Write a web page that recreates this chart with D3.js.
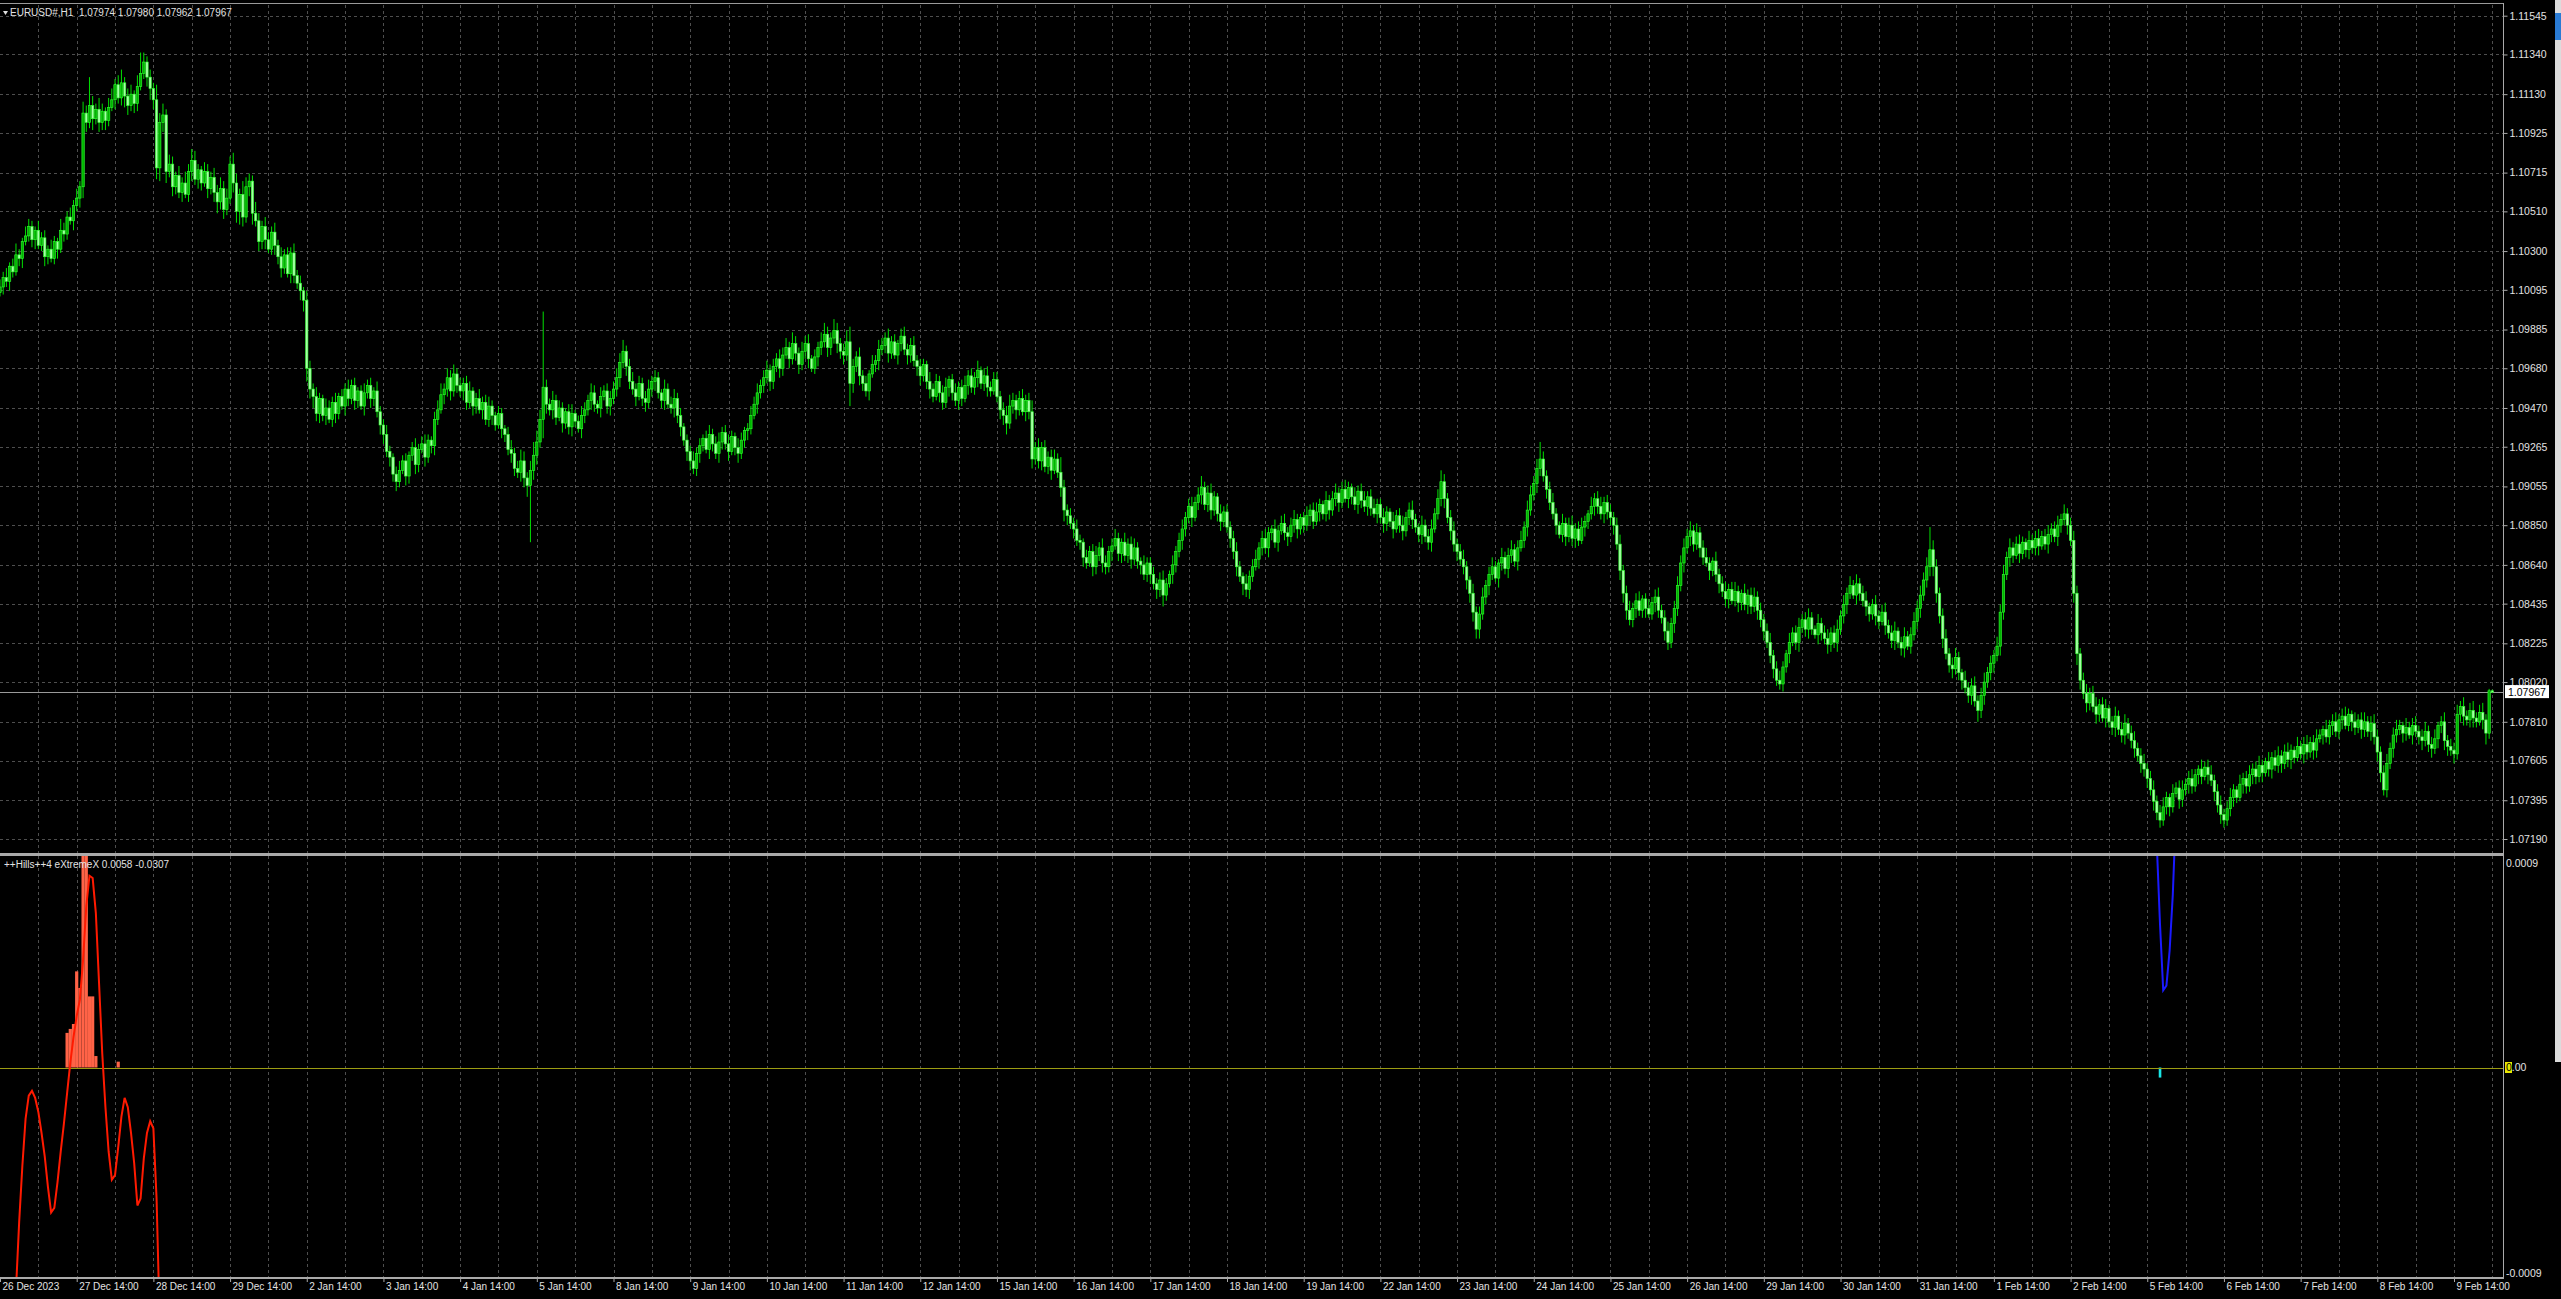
<!DOCTYPE html>
<html><head><meta charset="utf-8">
<script src="https://cdn.jsdelivr.net/npm/d3@7/dist/d3.min.js"></script>
<style>html,body{margin:0;padding:0;background:#000;overflow:hidden}svg{display:block}</style>
</head><body>
<script>
// ---- DATA (prices in pips above 1.07000; one bar per hour) ----
const basePrice = 1.07;
const firstOpen = 308;
const closes = [
311,316,314,322,319,328,326,335,338,343,336,341,333,337,327,331,326,335,331,341,339,348,346,354,
358,364,403,398,407,400,405,398,404,399,406,410,418,411,419,412,407,413,408,417,424,430,422,416,
410,374,398,402,372,376,364,370,361,366,360,372,378,368,373,366,372,363,369,361,356,363,352,358,
376,366,351,360,348,364,367,350,346,335,343,336,331,340,333,327,321,328,318,329,317,313,309,304,
268,257,253,244,252,243,247,241,250,244,253,248,257,252,259,251,256,248,255,259,252,256,245,238,
233,224,221,212,208,214,219,211,222,226,217,225,228,221,230,227,241,246,254,257,263,256,265,259,
256,260,250,256,248,252,246,250,241,248,243,238,244,236,233,225,223,215,213,219,210,206,214,222,
229,241,258,249,246,251,242,247,239,245,237,244,240,236,243,246,251,255,249,247,253,256,248,252,
257,263,271,277,269,261,257,253,260,252,250,257,261,263,255,251,257,249,247,252,243,237,230,224,
219,215,223,227,231,225,233,228,223,229,234,228,224,232,226,223,230,235,236,243,249,255,259,263,
267,261,269,273,268,275,279,273,281,276,270,277,281,273,268,274,279,282,286,279,284,288,281,277,
275,282,260,269,274,264,260,256,265,270,272,278,280,284,276,282,275,281,285,278,275,280,272,269,
264,270,261,257,253,261,255,250,258,262,255,251,258,252,259,264,258,263,267,260,264,258,256,262,
253,246,243,239,248,251,246,252,245,251,245,220,226,219,226,216,221,214,220,213,205,193,190,186,
183,177,176,168,165,171,163,169,173,165,163,171,174,178,170,176,169,175,167,173,166,164,159,165,
159,154,151,156,148,154,159,164,171,177,183,189,195,189,197,201,205,196,202,193,200,191,187,192,
184,178,171,163,158,154,151,158,163,167,173,178,173,181,183,176,182,186,181,179,185,188,183,189,
185,190,193,187,192,196,191,198,193,199,202,197,204,199,205,200,196,203,198,195,200,194,191,196,
189,186,192,187,183,190,185,182,189,193,188,184,180,185,179,176,183,191,199,208,199,189,182,175,
171,167,163,156,149,139,130,138,147,153,159,163,157,165,168,162,169,172,166,173,177,184,193,201,
207,215,220,211,204,197,191,185,180,186,179,185,178,183,177,184,187,191,195,199,195,191,197,192,
189,185,175,161,149,140,135,141,145,140,146,141,138,144,147,140,136,129,123,133,141,153,165,173,
179,182,175,181,173,168,165,161,166,159,154,150,146,151,145,150,144,149,143,148,142,147,140,135,
129,123,116,109,103,101,110,117,123,128,123,131,135,130,136,130,127,133,128,125,122,128,123,130,
137,143,149,153,148,154,149,145,142,138,143,137,134,139,132,128,124,129,123,120,126,121,127,134,
141,148,156,163,172,163,149,137,125,117,111,109,115,107,103,99,95,100,92,87,95,102,107,112,
116,121,139,159,168,173,169,175,170,176,172,177,173,178,174,179,175,180,183,179,185,188,191,185,
177,149,117,103,96,91,96,89,85,90,83,88,81,78,84,77,74,80,75,71,67,63,59,56,
51,45,39,33,29,36,41,36,43,46,40,45,48,51,47,53,56,52,57,53,50,44,37,32,
29,35,41,45,41,48,51,47,53,56,52,58,54,60,56,62,58,63,59,65,61,66,62,68,
64,69,65,70,66,72,74,77,73,79,81,76,82,84,79,85,81,78,82,77,81,76,80,73,
65,54,45,59,67,74,77,79,75,78,74,79,76,73,71,76,69,67,72,79,81,71,68,66,
64,85,89,84,82,87,83,81,86,82,75,97.4,96.7];
const upWick = [
4,3,5,2,4,6,3,2,5,4,3,2,5,3,4,2,5,3,2,6,4,3,5,3,
5,3,6,4,15,5,3,6,4,2,5,6,3,5,7,3,4,5,2,6,11,5,3,4,
3,8,5,6,3,5,4,2,5,3,6,4,6,5,3,2,5,4,3,5,4,6,4,5,
4,6,5,3,7,5,4,3,6,4,3,5,4,3,5,3,5,3,4,3,5,3,4,2,
5,4,3,5,3,2,5,4,3,5,2,4,3,5,3,4,2,3,5,3,4,2,5,3,
3,5,3,2,4,5,3,4,2,3,5,3,4,5,3,2,4,5,6,3,5,4,5,3,
4,3,4,5,2,3,5,3,4,5,3,2,4,3,2,4,5,3,4,6,5,3,5,7,
6,5,40,4,3,5,3,4,3,2,4,5,2,3,5,4,3,5,4,2,5,3,4,4,
4,5,5,6,3,4,5,3,4,3,4,5,3,4,3,2,5,3,4,5,3,4,2,3,
3,5,3,4,2,4,5,3,4,5,3,4,5,3,2,5,4,2,3,5,4,5,3,4,
5,3,4,3,5,4,5,3,6,4,3,5,4,5,2,4,3,5,6,4,3,6,4,3,
4,6,8,4,3,5,3,4,2,5,3,5,4,3,5,3,4,2,4,5,3,4,5,3,
4,3,2,5,3,4,3,4,5,2,3,5,3,4,5,3,4,3,5,2,4,5,3,4,
4,3,4,5,6,4,3,4,5,3,4,6,3,5,3,4,3,4,5,3,8,4,3,4,
3,5,3,2,4,3,4,5,3,5,4,3,4,5,3,2,5,3,4,5,3,2,5,3,
3,4,3,4,5,3,2,5,3,4,5,3,4,5,3,4,6,3,4,5,3,2,5,3,
4,3,4,5,3,2,5,3,4,5,3,4,5,3,2,5,3,4,5,3,4,5,3,2,
3,5,3,4,5,3,2,5,3,4,5,3,4,5,3,2,5,3,4,5,3,4,5,3,
3,5,3,2,5,3,4,5,3,4,5,3,2,5,3,4,5,3,5,6,4,3,4,5,
3,4,5,3,2,5,3,4,5,3,4,5,3,2,5,3,4,5,3,4,5,3,5,5,
4,5,9,4,3,4,5,3,2,5,3,4,5,3,4,5,3,2,5,3,4,5,3,4,
4,3,4,5,3,4,5,3,4,5,2,3,5,3,4,5,3,4,5,3,4,5,4,5,
4,5,3,5,3,4,5,3,2,5,3,4,5,3,4,5,3,2,5,3,4,5,3,4,
3,4,5,3,4,5,3,2,5,3,4,5,3,4,5,3,2,5,3,4,5,3,4,5,
3,5,3,5,3,5,3,4,5,2,3,5,3,4,5,3,4,5,2,3,5,3,4,5,
4,5,4,5,12,5,4,3,4,5,3,4,5,3,2,5,3,4,5,3,4,5,3,4,
3,5,4,5,3,5,3,4,5,3,2,5,3,4,5,3,4,5,3,4,5,3,5,3,
4,5,4,3,4,5,3,4,5,3,4,5,2,3,5,3,4,5,3,4,5,3,4,5,
3,4,5,3,4,5,3,2,5,3,4,5,3,4,5,3,2,5,3,4,5,3,4,5,
3,4,5,3,2,5,3,4,5,3,4,5,3,2,5,3,4,5,3,4,5,3,2,5,
3,4,5,3,4,5,3,2,5,3,4,5,3,4,5,3,2,5,3,4,5,3,4,5,
4,3,4,5,3,4,5,3,2,5,3,4,5,3,4,5,3,4,5,2,3,5,3,4,
4,5,3,5,3,4,5,3,4,5,3,1,0.6];
const dnWick = [
2,4,3,5,3,2,4,5,2,3,4,5,2,3,5,4,2,3,5,2,4,3,2,5,
3,5,6,5,3,6,3,5,4,5,3,2,5,3,4,6,5,3,5,4,2,3,5,6,
5,6,7,5,6,3,5,4,3,5,2,4,5,3,5,4,2,5,3,5,6,4,5,3,
3,5,6,7,5,3,5,6,3,5,4,5,2,3,5,4,5,3,2,5,4,3,5,6,
7,5,6,4,5,3,5,2,4,5,3,2,5,4,3,5,4,2,5,3,5,4,3,5,
5,3,5,4,5,3,2,5,4,3,5,4,2,5,3,4,5,3,2,5,4,5,3,4,
3,5,4,3,5,4,2,5,3,4,5,3,2,5,4,3,5,4,3,5,5,6,30,5,
5,3,10,5,3,5,4,2,5,3,4,5,3,2,5,4,3,5,4,3,5,2,4,5,
3,4,5,3,5,4,3,5,2,4,5,3,4,5,3,4,5,2,3,5,4,5,3,5,
5,3,4,5,3,2,5,4,3,5,4,3,5,2,4,5,3,4,5,3,2,5,3,4,
3,5,4,3,5,4,2,5,3,4,5,3,4,5,2,3,5,4,3,5,4,3,5,4,
5,3,12,5,3,5,4,3,5,2,4,5,3,4,5,3,2,5,4,3,5,4,3,5,
5,3,4,5,3,2,5,4,3,5,4,3,5,4,2,5,3,4,5,3,4,5,3,2,
3,5,5,6,3,4,5,3,2,5,4,5,3,4,5,3,4,5,2,3,5,6,5,3,
5,3,4,5,3,2,5,4,3,5,4,3,5,2,4,5,3,4,5,3,4,5,3,4,
5,3,5,4,6,3,2,5,4,3,5,4,3,5,2,4,5,3,4,5,3,4,5,3,
3,5,4,5,3,6,4,5,3,2,5,4,3,5,4,3,5,2,4,5,3,4,5,3,
4,3,5,4,2,5,3,4,5,3,4,5,3,2,5,4,3,5,4,3,5,4,2,5,
3,5,4,3,5,2,4,5,3,4,5,3,4,5,3,4,5,2,3,4,5,3,5,4,
5,3,4,5,5,5,5,5,3,4,5,3,2,5,4,3,5,4,3,5,2,4,5,3,
3,5,4,3,5,4,3,5,2,4,5,3,4,5,3,2,5,4,3,5,4,3,5,4,
4,5,3,5,5,5,3,4,5,3,4,5,2,3,5,4,3,5,4,3,5,4,3,5,
3,5,4,3,5,4,2,5,3,4,5,3,4,5,2,3,5,4,3,5,4,3,5,4,
5,3,4,5,3,3,4,3,5,2,4,5,3,4,5,3,2,5,4,3,5,4,3,5,
3,4,5,3,2,5,4,3,5,4,3,5,4,2,5,3,4,5,3,4,5,2,4,3,
4,5,3,4,5,5,5,4,5,3,4,5,3,4,5,3,4,5,3,6,4,5,3,4,
5,3,5,4,3,5,4,2,5,3,4,5,3,4,5,2,3,5,4,3,5,4,3,5,
3,5,6,5,3,5,4,3,5,4,2,5,3,4,5,3,4,5,3,4,5,3,5,4,
5,3,5,4,4,3,4,5,3,2,5,4,3,5,4,3,5,4,2,5,3,5,4,5,
4,3,4,5,3,2,5,4,3,5,4,3,5,2,4,5,3,4,5,3,4,5,3,2,
3,5,4,3,5,4,2,5,3,4,5,3,4,5,2,3,5,4,3,5,4,3,5,4,
5,5,3,4,3,5,4,3,5,4,2,5,3,4,5,3,4,5,3,5,4,5,5,3,
5,3,4,5,3,4,5,3,2,5,6,3,0.5];

const priceTicks = [1.11545,1.11340,1.11130,1.10925,1.10715,1.10510,1.10300,1.10095,1.09885,1.09680,1.09470,
  1.09265,1.09055,1.08850,1.08640,1.08435,1.08225,1.08020,1.07810,1.07605,1.07395,1.07190];
const dayLabels = ["26 Dec 2023","27 Dec 14:00","28 Dec 14:00","29 Dec 14:00","2 Jan 14:00","3 Jan 14:00","4 Jan 14:00",
  "5 Jan 14:00","8 Jan 14:00","9 Jan 14:00","10 Jan 14:00","11 Jan 14:00","12 Jan 14:00","15 Jan 14:00","16 Jan 14:00",
  "17 Jan 14:00","18 Jan 14:00","19 Jan 14:00","22 Jan 14:00","23 Jan 14:00","24 Jan 14:00","25 Jan 14:00","26 Jan 14:00",
  "29 Jan 14:00","30 Jan 14:00","31 Jan 14:00","1 Feb 14:00","2 Feb 14:00","5 Feb 14:00","6 Feb 14:00","7 Feb 14:00",
  "8 Feb 14:00","9 Feb 14:00"];
const barsPerDay = 24;
const headerText = "EURUSD#,H1  1.07974 1.07980 1.07962 1.07967";
const lastPrice = 1.07967;
const indicatorText = "++Hills++4 eXtremeX 0.0058 -0.0307";
const indTicks = [0.0009, -0.0009];
const indTickLabels = ["0.0009", "-0.0009"];
// histogram (salmon) bars
const histBars =   [21, 22, 23, 24, 25, 26, 27, 28, 29, 30, 37];
const histValues = [0.000148,0.000165,0.000186,0.000411,0.00034,0.00095,0.00095,0.000304,0.000304,0.000049,0.000025];
// red line, starting at bar 5
const redStart = 5;
const redValues = [-0.00095,-0.00066,-0.00042,-0.00022,-0.00012,-0.0001,-0.00013,-0.00019,-0.00028,-0.00038,-0.00051,-0.00062,
  -0.0006,-0.00049,-0.00036,-0.00024,-0.00011,0.00002,0.00013,0.00022,0.00029,0.00046,0.00069,0.00082,0.00081,0.00066,
  0.00036,0.00006,-0.00017,-0.00036,-0.00048,-0.00046,-0.00034,-0.00021,-0.00013,-0.00017,-0.00028,-0.00041,-0.00059,
  -0.00056,-0.00039,-0.00028,-0.00023,-0.00026,-0.00056,-0.0011];
// blue line, starting at bar 675
const blueStart = 675;
const blueValues = [0.00095,0.00061,0.00033,0.00035,0.0005,0.00074,0.0011];
// cyan bar
const cyanBars = [676];
const cyanValues = [-0.000043];

// ---- LAYOUT ----
const W = 2561, H = 1299;
const plotR = 2503, mainTop = 4, mainBot = 853, indTop = 856, indBot = 1277;
const P = v => basePrice + v / 10000;

const x = d3.scaleLinear().domain([0, 32 * barsPerDay]).range([0, 2454]);
const y = d3.scaleLinear().domain([1.07190, 1.11545]).range([839, 15.7]);
const yi = d3.scaleLinear().domain([-0.0009, 0.0009]).range([1278, 857]);

const bars = closes.map((c, i) => {
  const o = i === 0 ? firstOpen : closes[i - 1];
  return { i, o: P(o), c: P(c), h: P(Math.max(o, c) + upWick[i]), l: P(Math.min(o, c) - dnWick[i]) };
});

const svg = d3.select("body").append("svg").attr("width", W).attr("height", H)
  .style("background", "#000").style("font-family", "'Liberation Sans', Arial, sans-serif");
const defs = svg.append("defs");
defs.append("clipPath").attr("id", "cm").append("rect").attr("x", 0).attr("y", mainTop + 1).attr("width", plotR).attr("height", mainBot - mainTop - 1);
defs.append("clipPath").attr("id", "ci").append("rect").attr("x", 0).attr("y", indTop).attr("width", plotR).attr("height", indBot - indTop);

// grid
const gridC = "#4e4e4e";
const grid = svg.append("g").attr("stroke", gridC).attr("stroke-dasharray", "3,3").attr("stroke-width", 1);
priceTicks.forEach(p => {
  const yy = Math.round(y(p)) + 0.5;
  grid.append("line").attr("x1", 0).attr("x2", plotR).attr("y1", yy).attr("y2", yy);
});
for (let k = barsPerDay / 2; x(k) < plotR - 2; k += barsPerDay / 2) {
  const xx = Math.round(x(k)) + 0.5;
  grid.append("line").attr("x1", xx).attr("x2", xx).attr("y1", mainTop + 1).attr("y2", mainBot);
  grid.append("line").attr("x1", xx).attr("x2", xx).attr("y1", indTop).attr("y2", indBot);
}

// current price line
svg.append("line").attr("x1", 0).attr("x2", plotR).attr("y1", Math.round(y(lastPrice)) + 0.5).attr("y2", Math.round(y(lastPrice)) + 0.5)
  .attr("stroke", "#9a9a9a").attr("stroke-width", 1);

// candles
const cg = svg.append("g").attr("clip-path", "url(#cm)");
cg.selectAll("line.w").data(bars).join("line").attr("class", "w")
  .attr("x1", d => x(d.i)).attr("x2", d => x(d.i))
  .attr("y1", d => y(d.h)).attr("y2", d => y(d.l))
  .attr("stroke", "#00e000").attr("stroke-width", 1);
cg.selectAll("rect.b").data(bars).join("rect").attr("class", "b")
  .attr("x", d => x(d.i) - 1.2).attr("width", 2.4)
  .attr("y", d => y(Math.max(d.o, d.c)))
  .attr("height", d => Math.max(0.8, Math.abs(y(d.o) - y(d.c))))
  .attr("fill", d => d.c >= d.o ? "#00b400" : "#a6ffa6")
  .attr("stroke", "#30ff30").attr("stroke-width", 0.6);

// indicator
const ig = svg.append("g").attr("clip-path", "url(#ci)");
ig.selectAll("rect.h").data(histBars).join("rect").attr("class", "h")
  .attr("x", (d) => x(d) - 1.6).attr("width", 3.2)
  .attr("y", (d, i) => yi(histValues[i])).attr("height", (d, i) => yi(0) - yi(histValues[i]))
  .attr("fill", "#ff6347");
ig.selectAll("rect.cy").data(cyanBars).join("rect").attr("class", "cy")
  .attr("x", d => x(d) - 1.3).attr("width", 2.6)
  .attr("y", yi(0)).attr("height", (d, i) => yi(cyanValues[i]) - yi(0))
  .attr("fill", "#19e6e6");
ig.append("line").attr("x1", 0).attr("x2", plotR).attr("y1", Math.round(yi(0)) + 0.5).attr("y2", Math.round(yi(0)) + 0.5)
  .attr("stroke", "#9c9c12").attr("stroke-width", 1.2);
const line = d3.line().x(d => x(d[0])).y(d => yi(d[1]));
ig.append("path").attr("d", line(redValues.map((v, k) => [redStart + k, v])))
  .attr("fill", "none").attr("stroke", "#ff1a00").attr("stroke-width", 2);
ig.append("path").attr("d", line(blueValues.map((v, k) => [blueStart + k, v])))
  .attr("fill", "none").attr("stroke", "#1a1aff").attr("stroke-width", 2);

// frames
svg.append("line").attr("x1", 0).attr("x2", plotR).attr("y1", 3.5).attr("y2", 3.5).attr("stroke", "#9a9a9a");
svg.append("rect").attr("x", 0).attr("y", mainBot).attr("width", plotR + 1).attr("height", 3).attr("fill", "#a9a9a9");
svg.append("line").attr("x1", plotR + 0.5).attr("x2", plotR + 0.5).attr("y1", 3).attr("y2", indBot + 1).attr("stroke", "#a9a9a9");

// right price axis
const txtC = "#e2e2e2";
const ay = svg.append("g").attr("transform", `translate(${plotR + 0.5},0)`)
  .call(d3.axisRight(y).tickValues(priceTicks).tickFormat(d3.format(".5f")).tickSize(4).tickPadding(2));
ay.select(".domain").remove();
ay.selectAll("line").attr("stroke", "#a9a9a9");
ay.selectAll("text").attr("fill", txtC).style("font-size", "10.5px");

// last price box
svg.append("rect").attr("x", plotR + 2).attr("y", y(lastPrice) - 7).attr("width", 44).attr("height", 13)
  .attr("fill", "#fff");
svg.append("text").attr("x", plotR + 5).attr("y", y(lastPrice)).attr("dy", "0.35em")
  .attr("fill", "#000").style("font-size", "10.5px").text(d3.format(".5f")(lastPrice));

// indicator axis labels
const indOffsets = [6, -5];
indTicks.forEach((v, k) => {
  svg.append("text").attr("x", plotR + 3).attr("y", yi(v) + indOffsets[k]).attr("dy", "0.35em")
    .attr("fill", txtC).style("font-size", "10.5px").text(indTickLabels[k]);
});
// zero level marker + label
svg.append("rect").attr("x", plotR + 2).attr("y", yi(0) - 5.5).attr("width", 7).attr("height", 11).attr("fill", "#e8e800");
const zt = svg.append("text").attr("x", plotR + 3).attr("y", yi(0)).attr("dy", "0.35em").style("font-size", "10.5px");
zt.append("tspan").attr("fill", "#000").text("0");
zt.append("tspan").attr("fill", txtC).text(".00");

// bottom axis
svg.append("rect").attr("x", 0).attr("y", indBot).attr("width", plotR + 1).attr("height", 2).attr("fill", "#a9a9a9");
const ax = svg.append("g").attr("transform", `translate(0,${indBot + 2})`)
  .call(d3.axisBottom(x).tickValues(dayLabels.map((d, k) => k * barsPerDay)).tickFormat((d, k) => dayLabels[k]).tickSize(3).tickPadding(1));
ax.select(".domain").remove();
ax.selectAll("line").attr("stroke", "#a9a9a9");
ax.selectAll("text").attr("fill", txtC).attr("text-anchor", "start").attr("x", 2).style("font-size", "10px");

// header texts
svg.append("path").attr("d", "M3,11 L8,11 L5.5,15 Z").attr("fill", "#e0e0e0");
svg.append("text").attr("x", 10).attr("y", 16).attr("fill", txtC).style("font-size", "10px").text(headerText)
  .style("white-space", "pre");
svg.append("text").attr("x", 4).attr("y", 868).attr("fill", txtC).style("font-size", "10px").text(indicatorText);

// right window edge
svg.append("rect").attr("x", 2555).attr("y", 0).attr("width", 6).attr("height", 1062).attr("fill", "#dcdcdc");
svg.append("rect").attr("x", 2555).attr("y", 13).attr("width", 6).attr("height", 27).attr("fill", "#2a7bd4");
</script>
</body></html>
